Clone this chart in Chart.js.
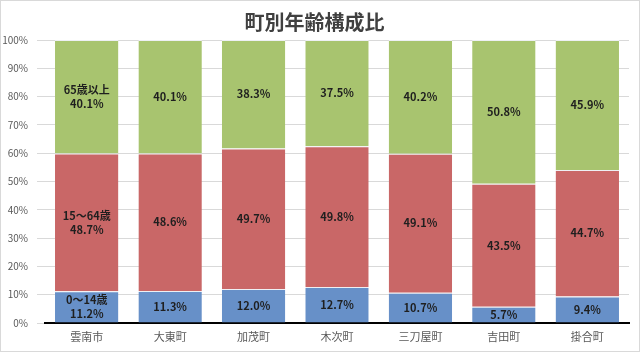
<!DOCTYPE html>
<html lang="ja">
<head>
<meta charset="UTF-8">
<title>町別年齢構成比</title>
<script src="https://cdn.jsdelivr.net/npm/chart.js"></script>
<style>
  html, body { margin: 0; padding: 0; background: #fff; }
  #wrap { width: 640px; height: 352px; }
</style>
</head>
<body>
<div id="wrap"><canvas id="ageChart" width="640" height="352"></canvas></div>
<script>
// 町名
var towns = ['雲南市', '大東町', '加茂町', '木次町', '三刀屋町', '吉田町', '掛合町'];
// 年齢区分ごとの構成比 (%)
var age0to14 = [11.2, 11.3, 12.0, 12.7, 10.7, 5.7, 9.4];
var age15to64 = [48.7, 48.6, 49.7, 49.8, 49.1, 43.5, 44.7];
var age65over = [40.1, 40.1, 38.3, 37.5, 40.2, 50.8, 45.9];
var groupNames = ['0～14歳', '15～64歳', '65歳以上'];

var JP = '"Noto Sans CJK JP", "Noto Sans", sans-serif';

// ラベルを各区分の中央に描く
var segmentLabels = {
  id: 'segmentLabels',
  afterDatasetsDraw: function (chart) {
    var ctx = chart.ctx;
    ctx.save();
    ctx.font = 'bold 11px ' + JP;
    ctx.fillStyle = '#1f1f1f';
    ctx.textAlign = 'center';
    ctx.textBaseline = 'middle';
    chart.data.datasets.forEach(function (ds, di) {
      var meta = chart.getDatasetMeta(di);
      meta.data.forEach(function (bar, i) {
        var cy = (bar.y + bar.base) / 2;
        var txt = ds.data[i].toFixed(1) + '%';
        if (i === 0) {
          ctx.fillText(ds.label, bar.x, cy - 7);
          ctx.fillText(txt, bar.x, cy + 7);
        } else {
          ctx.fillText(txt, bar.x, cy);
        }
      });
    });
    ctx.restore();
  }
};

// 外枠
var frame = {
  id: 'frame',
  beforeDraw: function (chart) {
    var ctx = chart.ctx;
    ctx.save();
    ctx.fillStyle = '#fff';
    ctx.fillRect(0, 0, chart.width, chart.height);
    ctx.strokeStyle = '#d9d9d9';
    ctx.lineWidth = 1;
    ctx.strokeRect(0.5, 0.5, chart.width - 1, chart.height - 1);
    ctx.restore();
  }
};

var ctx = document.getElementById('ageChart').getContext('2d');
new Chart(ctx, {
  type: 'bar',
  data: {
    labels: towns,
    datasets: [
      { label: groupNames[0], data: age0to14, backgroundColor: '#6790c8' },
      { label: groupNames[1], data: age15to64, backgroundColor: '#c96767' },
      { label: groupNames[2], data: age65over, backgroundColor: '#a8c46f' }
    ]
  },
  options: {
    responsive: false,
    animation: false,
    layout: { padding: { left: 0, right: 11, top: 0, bottom: 0 } },
    datasets: {
      bar: {
        categoryPercentage: 1,
        barPercentage: 0.76,
        borderColor: '#eef0f4',
        borderWidth: { top: 1, left: 0, right: 0, bottom: 0 },
        borderSkipped: false
      }
    },
    plugins: {
      legend: { display: false },
      tooltip: { enabled: false },
      title: {
        display: true,
        text: '町別年齢構成比',
        color: '#404040',
        font: { family: JP, size: 20, weight: 'bold', lineHeight: 1.2 },
        padding: { top: 10, bottom: 6 }
      }
    },
    scales: {
      x: {
        stacked: true,
        grid: { display: false, drawTicks: false },
        border: { display: true, color: '#000', width: 2 },
        ticks: { color: '#595959', font: { family: JP, size: 11 }, padding: 7 },
        afterFit: function (s) { s.height = 29; }
      },
      y: {
        stacked: true,
        min: 0,
        max: 100,
        ticks: {
          stepSize: 10,
          color: '#595959',
          font: { family: JP, size: 10 },
          padding: 9,
          callback: function (v) { return v + '%'; }
        },
        grid: { color: '#d9d9d9', tickLength: 8 },
        border: { display: false },
        afterFit: function (s) { s.width = 45; }
      }
    }
  },
  plugins: [frame, segmentLabels]
});
</script>
</body>
</html>
